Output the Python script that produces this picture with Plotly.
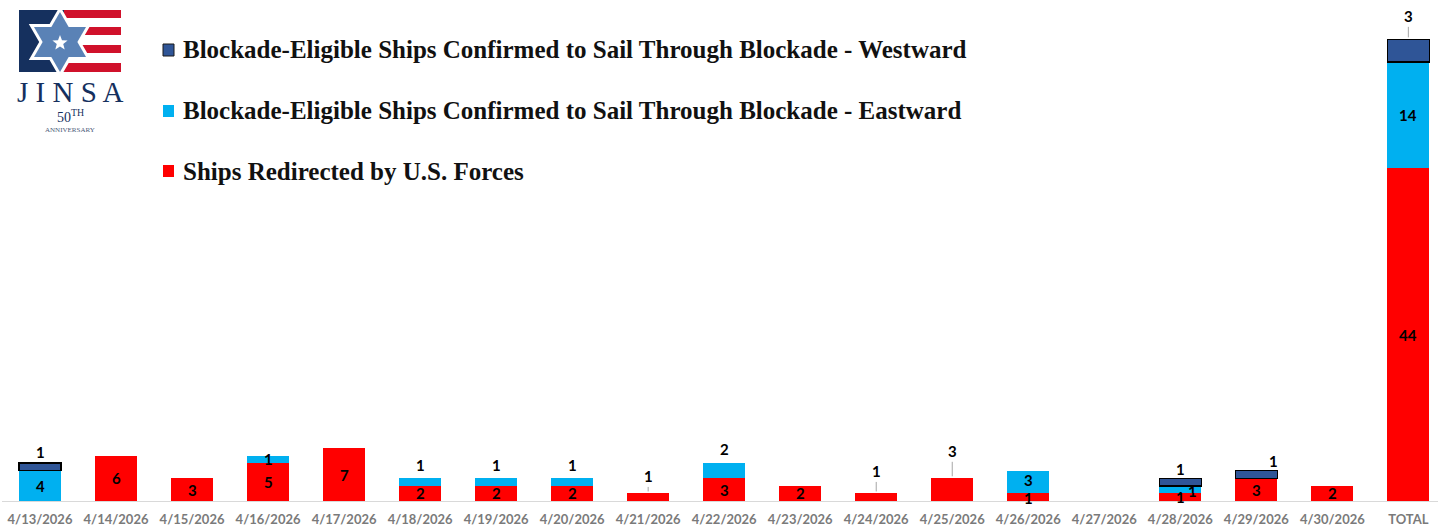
import math
import plotly.graph_objects as go

# ---------------- data ----------------
categories = ["4/13/2026", "4/14/2026", "4/15/2026", "4/16/2026", "4/17/2026", "4/18/2026",
              "4/19/2026", "4/20/2026", "4/21/2026", "4/22/2026", "4/23/2026", "4/24/2026",
              "4/25/2026", "4/26/2026", "4/27/2026", "4/28/2026", "4/29/2026", "4/30/2026", "TOTAL"]
redirected = [0, 6, 3, 5, 7, 2, 2, 2, 1, 3, 2, 1, 3, 1, 0, 1, 3, 2, 44]
eastward = [4, 0, 0, 1, 0, 1, 1, 1, 0, 2, 0, 0, 0, 3, 0, 1, 0, 0, 14]
westward = [1, 0, 0, 0, 0, 0, 0, 0, 0, 0, 0, 0, 0, 0, 0, 1, 1, 0, 3]

series_names = ["Ships Redirected by U.S. Forces",
                "Blockade-Eligible Ships Confirmed to Sail Through Blockade - Eastward",
                "Blockade-Eligible Ships Confirmed to Sail Through Blockade - Westward"]

# ---------------- styles ----------------
RED = "#FF0000"
LBLUE = "#00B0F0"
DBLUE = "#2F5597"
W_PX, H_PX = 1438, 527
ML, MR, MT, MB = 2, 0, 0, 26
PW, PH = W_PX - ML - MR, H_PX - MT - MB

# label placement overrides: (cat index, series) -> (mode, yshift, xshift, leader)
label_place = {
    (0, 2): ("above", 11, 0, False),
    (5, 1): ("above", 13, 0, False),
    (6, 1): ("above", 13, 0, False),
    (7, 1): ("above", 13, 0, False),
    (8, 0): ("above", 17, 0, True),
    (9, 1): ("above", 14, 0, False),
    (11, 0): ("above", 22, 0, True),
    (12, 0): ("above", 27, 0, True),
    (13, 0): ("center", -1, 0, False),
    (13, 1): ("center", 2, 0, False),
    (15, 1): ("center", -1, 12, False),
    (15, 2): ("above", 9, 0, False),
    (16, 2): ("above", 10, 17, False),
    (18, 2): ("above", 23, 0, True),
}


def nz(v):
    return [x if x else None for x in v]


def px(x):
    return (x - ML) / PW


def py(y):
    return 1 - (y - MT) / PH


fig = go.Figure()
fig.add_trace(go.Bar(x=categories, y=nz(redirected), name=series_names[0],
                     marker=dict(color=RED, line=dict(width=0))))
fig.add_trace(go.Bar(x=categories, y=nz(eastward), name=series_names[1],
                     marker=dict(color=LBLUE, line=dict(width=0))))
fig.add_trace(go.Bar(x=categories, y=nz(westward), name=series_names[2],
                     marker=dict(color=DBLUE, line=dict(width=1.5, color="#000000"))))

annotations = []
label_font = dict(family="Lato", size=15, color="#000000", weight="bold")
all_series = [redirected, eastward, westward]
for i, cat in enumerate(categories):
    base = 0
    for s, vals in enumerate(all_series):
        v = vals[i]
        if not v:
            continue
        top = base + v
        mode, dy, dx, leader = label_place.get((i, s), ("center", 0, 0, False))
        if mode == "center":
            annotations.append(dict(x=cat, y=base + v / 2, text=str(v), showarrow=False,
                                    xshift=dx, yshift=dy, font=label_font, yanchor="middle"))
        elif leader:
            annotations.append(dict(x=cat, y=top, text=str(v), showarrow=True, arrowhead=0,
                                    arrowwidth=1, arrowcolor="#A6A6A6", ax=dx, ay=-dy,
                                    standoff=2, font=label_font))
        else:
            annotations.append(dict(x=cat, y=top, text=str(v), showarrow=False,
                                    xshift=dx, yshift=dy, font=label_font, yanchor="middle"))
        base = top

# ---------------- custom legend ----------------
shapes = []
legend_rows = [(series_names[2], DBLUE, 50), (series_names[1], LBLUE, 111), (series_names[0], RED, 171)]
for name, col, yc in legend_rows:
    shapes.append(dict(type="rect", xref="paper", yref="paper",
                       x0=px(163), x1=px(174), y0=py(yc - 6), y1=py(yc + 6),
                       fillcolor=col, line=dict(width=1 if col == DBLUE else 0, color="#1a1a1a")))
    annotations.append(dict(xref="paper", yref="paper", x=px(181), y=py(yc), text=name,
                            showarrow=False, xanchor="left", yanchor="middle",
                            font=dict(family="Liberation Serif", size=25, color="#111111",
                                      weight="bold")))

# ---------------- logo ----------------
NAVY = "#15305E"
LRED = "#D0112B"
STEEL = "#5A82B6"


def path(pts):
    return "M " + " L ".join(f"{px(a):.5f},{py(b):.5f}" for a, b in pts) + " Z"


shapes.append(dict(type="rect", xref="paper", yref="paper", x0=px(19), x1=px(64),
                   y0=py(72), y1=py(10), fillcolor=NAVY, line=dict(width=0)))
for y0, y1 in [(10, 18), (27, 35), (45, 53), (63, 72)]:
    shapes.append(dict(type="rect", xref="paper", yref="paper", x0=px(64), x1=px(121),
                       y0=py(y1), y1=py(y0), fillcolor=LRED, line=dict(width=0)))
cx, cy, r = 60, 42, 30
tri_up = [(cx, cy - r), (cx - 26, cy + 15), (cx + 26, cy + 15)]
tri_dn = [(cx, cy + r), (cx - 26, cy - 15), (cx + 26, cy - 15)]
for tri in (tri_up, tri_dn):
    shapes.append(dict(type="path", xref="paper", yref="paper", path=path(tri),
                       fillcolor="white", line=dict(width=6, color="white")))
for tri in (tri_up, tri_dn):
    shapes.append(dict(type="path", xref="paper", yref="paper", path=path(tri),
                       fillcolor=STEEL, line=dict(width=0)))
star = []
for k in range(10):
    rr = 8 if k % 2 == 0 else 3.4
    ang = -math.pi / 2 + k * math.pi / 5
    star.append((cx + rr * math.cos(ang), cy + 1 + rr * math.sin(ang)))
shapes.append(dict(type="path", xref="paper", yref="paper", path=path(star),
                   fillcolor="white", line=dict(width=0)))

annotations.append(dict(xref="paper", yref="paper", x=px(70), y=py(92), text="J I N S A",
                        showarrow=False, xanchor="center", yanchor="middle",
                        font=dict(family="Liberation Serif", size=29, color=NAVY)))
annotations.append(dict(xref="paper", yref="paper", x=px(70), y=py(116), text="50<sup>TH</sup>",
                        showarrow=False, xanchor="center", yanchor="middle",
                        font=dict(family="Liberation Serif", size=14, color=NAVY)))
annotations.append(dict(xref="paper", yref="paper", x=px(70), y=py(130), text="ANNIVERSARY",
                        showarrow=False, xanchor="center", yanchor="middle",
                        font=dict(family="Liberation Serif", size=7, color="#4a5a78")))

fig.update_layout(
    barmode="stack",
    bargap=0.447,
    width=W_PX, height=H_PX,
    margin=dict(l=ML, r=MR, t=MT, b=MB),
    paper_bgcolor="white", plot_bgcolor="white",
    showlegend=False,
    shapes=shapes,
    annotations=annotations,
    xaxis=dict(range=[-0.5, 18.39], showline=True, linecolor="#D9D9D9", linewidth=1,
               ticks="", showgrid=False, zeroline=False, ticklabelstandoff=6,
               tickfont=dict(family="Lato", size=13, color="#7A7A7A", weight="bold")),
    yaxis=dict(range=[0, 66.2], visible=False, showgrid=False, zeroline=False),
)

fig.write_html("out.html")
